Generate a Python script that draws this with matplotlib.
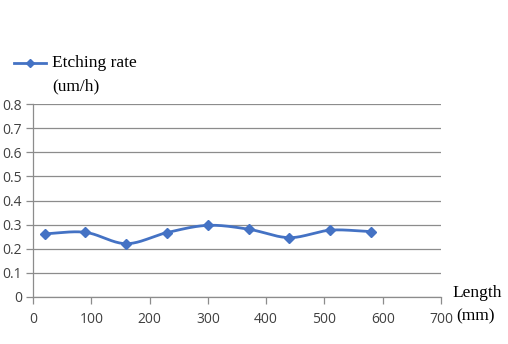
import numpy as np
import matplotlib
matplotlib.use("Agg")
import matplotlib.pyplot as plt
from matplotlib.lines import Line2D

length_mm = [20, 90, 160, 230, 300, 370, 440, 510, 580]
etch_rate = [0.262, 0.268, 0.221, 0.267, 0.297, 0.281, 0.246, 0.277, 0.271]
x_ticks = [0, 100, 200, 300, 400, 500, 600, 700]
y_ticks = [0, 0.1, 0.2, 0.3, 0.4, 0.5, 0.6, 0.7, 0.8]
y_tick_labels = ["0", "0.1", "0.2", "0.3", "0.4", "0.5", "0.6", "0.7", "0.8"]


def catmull_rom(xs, ys, n=30):
    xs = np.asarray(xs, float); ys = np.asarray(ys, float)
    px = np.concatenate([[2 * xs[0] - xs[1]], xs, [2 * xs[-1] - xs[-2]]])
    py = np.concatenate([[2 * ys[0] - ys[1]], ys, [2 * ys[-1] - ys[-2]]])
    ox, oy = [], []
    for i in range(1, len(px) - 2):
        t = np.linspace(0, 1, n, endpoint=False)
        for arr, out in ((px, ox), (py, oy)):
            p0, p1, p2, p3 = arr[i - 1], arr[i], arr[i + 1], arr[i + 2]
            out.extend(0.5 * ((2 * p1) + (-p0 + p2) * t + (2 * p0 - 5 * p1 + 4 * p2 - p3) * t ** 2
                              + (-p0 + 3 * p1 - 3 * p2 + p3) * t ** 3))
    ox.append(xs[-1]); oy.append(ys[-1])
    return np.array(ox), np.array(oy)


W, H = 508, 344
fig = plt.figure(figsize=(W / 100, H / 100), dpi=100)
ax = fig.add_axes([33 / W, 1 - 297 / H, (441 - 33) / W, (297 - 104) / H])

color = "#4472C4"
sx, sy = catmull_rom(length_mm, etch_rate)
ax.plot(sx, sy, color=color, lw=2.0, zorder=3)
ax.plot(length_mm, etch_rate, linestyle="none", marker="D", ms=5, color=color, zorder=4)

ax.set_xlim(0, 700)
ax.set_ylim(0, 0.8)
ax.set_xticks(x_ticks)
ax.set_yticks(y_ticks)
ax.set_yticklabels(y_tick_labels)
ax.grid(axis="y", color="#8c8c8c", lw=0.9)
ax.set_axisbelow(True)
for s in ("top", "right"):
    ax.spines[s].set_visible(False)
for s in ("left", "bottom"):
    ax.spines[s].set_color("#8c8c8c")
    ax.spines[s].set_linewidth(0.9)
ax.tick_params(axis="both", colors="#8c8c8c", labelcolor="#404040", labelsize=10,
               length=5, width=0.9, direction="out")
ax.tick_params(axis="y", pad=3)
ax.tick_params(axis="x", pad=6)
for lab in ax.get_xticklabels() + ax.get_yticklabels():
    lab.set_fontfamily("Open Sans")

serif = "Liberation Serif"
# legend
fig.add_artist(Line2D([14 / W, 46 / W], [1 - 63 / H, 1 - 63 / H], color=color, lw=2))
fig.add_artist(Line2D([30 / W], [1 - 63 / H], color=color, marker="D", ms=4, linestyle="none"))
fig.text(52 / W, 1 - 63 / H, "Etching rate", fontsize=12.5, family=serif, va="center", ha="left")
fig.text(52 / W, 1 - 86 / H, "(um/h)", fontsize=12.5, family=serif, va="center", ha="left")
# axis label
fig.text(452 / W, 1 - 293 / H, "Length", fontsize=12.5, family=serif, va="center", ha="left")
fig.text(456 / W, 1 - 316 / H, "(mm)", fontsize=12.5, family=serif, va="center", ha="left")

fig.savefig("out.png", dpi=100)
